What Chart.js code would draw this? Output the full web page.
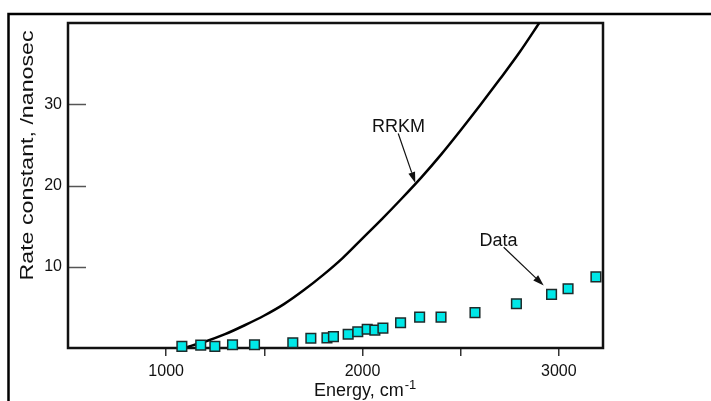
<!DOCTYPE html>
<html>
<head>
<meta charset="utf-8">
<script src="https://cdn.jsdelivr.net/npm/chart.js@4.4.1/dist/chart.umd.min.js"></script>
<style>
  html, body { margin: 0; padding: 0; background: #fff; }
  #wrap { width: 711px; height: 401px; position: relative; }
</style>
</head>
<body>
<div id="wrap"><canvas id="rateChart"></canvas></div>
<script>
// measured rate constants (energy in cm-1, k in 1/ns)
const dataEnergy = [1080, 1176, 1248, 1338, 1450, 1645, 1737, 1819, 1852, 1927, 1976,
                    2024, 2063, 2104, 2194, 2291, 2400, 2573, 2784, 2963, 3047, 3189];
const dataRate = [0.2, 0.35, 0.2, 0.4, 0.4, 0.65, 1.2, 1.25, 1.4, 1.7, 2.0,
                  2.3, 2.2, 2.45, 3.1, 3.8, 3.8, 4.35, 5.45, 6.6, 7.3, 8.75];

// RRKM curve
const rrkmEnergy = [1090, 1200, 1300, 1400, 1500, 1600, 1700, 1800, 1900, 2000,
                    2100, 2200, 2300, 2400, 2500, 2600, 2700, 2800, 2900];
const rrkmRate = [0, 0.8, 1.7, 2.8, 4.0, 5.4, 7.1, 9.0, 11.1, 13.5,
                  15.9, 18.4, 21.0, 23.8, 26.8, 29.9, 33.1, 36.4, 40];

const xTickValues = [1000, 1500, 2000, 2500, 3000];
const xTickLabels = [1000, 2000, 3000];
const yTickLabels = [10, 20, 30];

// callouts: label text, where the label sits and where its arrow points (data units)
const noteText = ['RRKM', 'Data'];
const noteLabelAt = [[2049, 26.6], [2596, 12.5]];
const noteArrowFrom = [[2182, 26.4], [2719, 12.4]];
const noteArrowTo = [[2269, 20.3], [2923, 7.7]];

const FONT = '"Liberation Sans", Arial, Helvetica, sans-serif';

function arrow(ctx, x0, y0, x1, y1) {
    const ang = Math.atan2(y1 - y0, x1 - x0);
    const len = 11, half = 3.5;
    const bx = x1 - len * Math.cos(ang), by = y1 - len * Math.sin(ang);
    ctx.beginPath();
    ctx.moveTo(x0, y0);
    ctx.lineTo(bx, by);
    ctx.stroke();
    ctx.beginPath();
    ctx.moveTo(x1, y1);
    ctx.lineTo(bx + half * Math.sin(ang), by - half * Math.cos(ang));
    ctx.lineTo(bx - half * Math.sin(ang), by + half * Math.cos(ang));
    ctx.closePath();
    ctx.fill();
}

const decor = {
    id: 'decor',
    beforeDatasetsDraw(chart) {
        const {ctx, chartArea: a, scales: {y}} = chart;
        ctx.save();
        // outer frame (only top and left fall inside the picture)
        ctx.strokeStyle = '#000';
        ctx.lineWidth = 2.5;
        ctx.beginPath();
        ctx.moveTo(8.5, chart.height);
        ctx.lineTo(8.5, 14);
        ctx.lineTo(chart.width, 14);
        ctx.stroke();
        // y ticks point into the plot
        ctx.strokeStyle = '#555';
        ctx.lineWidth = 1.5;
        yTickLabels.forEach(v => {
            const py = Math.round(y.getPixelForValue(v)) + 0.5;
            ctx.beginPath();
            ctx.moveTo(a.left, py);
            ctx.lineTo(a.left + 18, py);
            ctx.stroke();
        });
        // plot box
        ctx.strokeStyle = '#111';
        ctx.lineWidth = 2.5;
        ctx.strokeRect(a.left, a.top, a.right - a.left, a.bottom - a.top);
        ctx.restore();
    },
    afterDatasetsDraw(chart) {
        const {ctx, chartArea: a, scales: {x, y}} = chart;
        ctx.save();
        ctx.fillStyle = '#111';
        ctx.strokeStyle = '#111';
        ctx.lineWidth = 1.2;
        ctx.font = '18px ' + FONT;
        ctx.textBaseline = 'alphabetic';
        ctx.textAlign = 'left';
        noteText.forEach((t, i) => {
            ctx.fillText(t, x.getPixelForValue(noteLabelAt[i][0]), y.getPixelForValue(noteLabelAt[i][1]));
            arrow(ctx,
                  x.getPixelForValue(noteArrowFrom[i][0]), y.getPixelForValue(noteArrowFrom[i][1]),
                  x.getPixelForValue(noteArrowTo[i][0]), y.getPixelForValue(noteArrowTo[i][1]));
        });

        // x axis title with superscript
        ctx.font = '18px ' + FONT;
        const main = 'Energy, cm';
        const tx = a.left + 246, ty = chart.height - 5;
        ctx.fillText(main, tx, ty);
        const w = ctx.measureText(main).width;
        ctx.font = '13px ' + FONT;
        ctx.fillText('-1', tx + w + 1, ty - 7);

        // y axis title, stretched along its length like the original
        const title = 'Rate constant, /nanosec';
        ctx.font = '18px ' + FONT;
        const tw = ctx.measureText(title).width;
        ctx.translate(33, 155.5);
        ctx.rotate(-Math.PI / 2);
        ctx.scale(250 / tw, 1);
        ctx.textAlign = 'center';
        ctx.fillText(title, 0, 0);
        ctx.restore();
    }
};

const ctx = document.getElementById('rateChart').getContext('2d');
const chart = new Chart(ctx, {
    type: 'scatter',
    data: {
        datasets: [{
            label: 'Data',
            data: dataEnergy.map((e, i) => ({x: e, y: dataRate[i]})),
            pointStyle: 'rect',
            pointRadius: 6.8,
            pointBackgroundColor: '#00e8e8',
            pointBorderColor: '#1d2b2b',
            pointBorderWidth: 1.5,
            clip: false,
            order: 0
        }, {
            label: 'RRKM',
            type: 'line',
            data: rrkmEnergy.map((e, i) => ({x: e, y: rrkmRate[i]})),
            borderColor: '#000',
            borderWidth: 2.5,
            pointRadius: 0,
            fill: false,
            cubicInterpolationMode: 'monotone',
            order: 1
        }]
    },
    options: {
        responsive: true,
        maintainAspectRatio: false,
        animation: false,
        layout: {padding: {left: 0, top: 23, right: 108, bottom: 0}},
        plugins: {legend: {display: false}, tooltip: {enabled: false}},
        scales: {
            x: {
                type: 'linear',
                min: 500,
                max: 3225,
                afterFit: s => { s.height = 53; },
                afterBuildTicks: s => { s.ticks = xTickValues.map(v => ({value: v})); },
                border: {display: false},
                grid: {
                    drawOnChartArea: false,
                    drawTicks: true,
                    tickLength: 8,
                    lineWidth: 1.5,
                    tickColor: '#333'
                },
                ticks: {
                    autoSkip: false,
                    maxRotation: 0,
                    padding: 6,
                    color: '#111',
                    font: {family: FONT, size: 16},
                    callback: v => xTickLabels.includes(v) ? String(v) : ''
                }
            },
            y: {
                min: 0,
                max: 40,
                afterFit: s => { s.width = 68; },
                border: {display: false},
                grid: {drawOnChartArea: false, drawTicks: false},
                ticks: {
                    stepSize: 10,
                    padding: 6,
                    color: '#111',
                    font: {family: FONT, size: 16},
                    callback: v => yTickLabels.includes(v) ? String(v) : ''
                }
            }
        }
    },
    plugins: [decor]
});
</script>
</body>
</html>
